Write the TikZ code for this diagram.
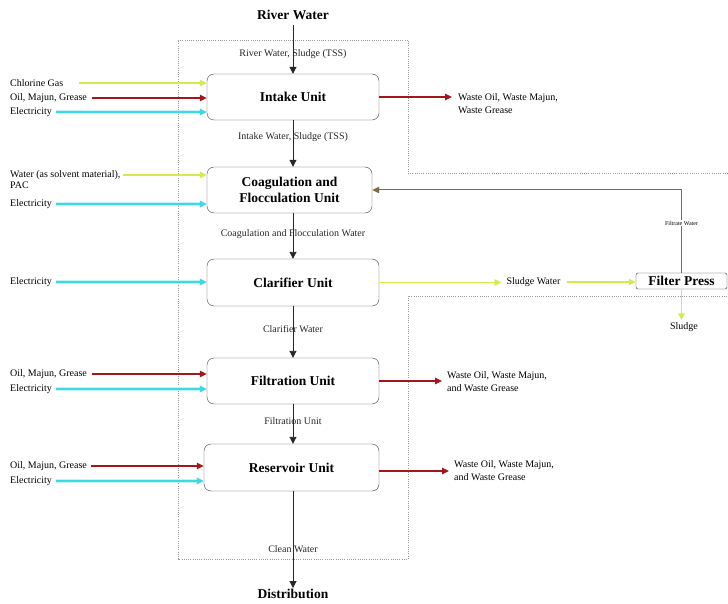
\documentclass[tikz,border=0pt]{standalone}
\usepackage{fontspec}
\setmainfont{Liberation Serif}
\usetikzlibrary{arrows.meta}
\definecolor{chlor}{HTML}{D6E94F}
\definecolor{oilred}{HTML}{A3171C}
\definecolor{elec}{HTML}{3CD9E3}
\definecolor{filtrate}{HTML}{7B6B42}

\begin{document}
\begin{tikzpicture}[x=1pt,y=-1pt,
	unit/.style={draw=black!75, rounded corners=7pt, fill=white, align=center,
		font=\fontsize{13.5}{16}\selectfont\bfseries, minimum width=172pt, minimum height=46pt},
	title/.style={font=\fontsize{13.5}{15}\selectfont\bfseries, inner sep=1pt},
	lbl/.style={font=\fontsize{10}{13}\selectfont, inner sep=2pt, align=left},
	flow/.style={-{Triangle[length=7pt,width=7pt]}, black!85, line width=0.9pt},
	chlarrow/.style={-{Triangle[length=7pt,width=6.5pt]}, chlor, line width=1.3pt},
	oilarrow/.style={-{Triangle[length=7pt,width=6.5pt]}, oilred, line width=1.1pt},
	elarrow/.style={-{Triangle[length=7pt,width=6.5pt]}, elec, line width=1.2pt,
		preaction={draw=elec!30, line width=3.5pt}},
	boundary/.style={gray!80, line width=0.6pt, dash pattern=on 1pt off 1.2pt}]
	\useasboundingbox (0,0) rectangle (728,604);
	% plant boundary
	\draw[boundary] (728,173) -- (408,173) -- (408,40) -- (178,40) -- (178,559) -- (408,559) -- (408,296) -- (728,296);

	% units
	\node[title] (river) at (293,15) {River Water};
	\node[unit] (intake) at (293,97) {Intake Unit};
	\node[unit, minimum width=165pt] (coag) at (289.5,190) {Coagulation and\\Flocculation Unit};
	\node[unit, minimum height=47pt] (clar) at (293,282.5) {Clarifier Unit};
	\node[unit] (filt) at (293,381) {Filtration Unit};
	\node[unit, minimum width=175pt, minimum height=47pt] (res) at (291.5,467.5) {Reservoir Unit};
	\node[title] (dist) at (293,594) {Distribution};

	% main flow
	\draw[flow, shorten <=4pt] (river.south) -- (intake.north) node[lbl, pos=0.62] {River Water, Sludge (TSS)};
	\draw[flow] (intake.south) -- (intake.south |- coag.north) node[lbl, pos=0.36] {Intake Water, Sludge (TSS)};
	\draw[flow] (clar.north |- coag.south) -- (clar.north) node[lbl, pos=0.45] {Coagulation and Flocculation Water};
	\draw[flow] (clar.south) -- (filt.north) node[lbl, pos=0.44] {Clarifier Water};
	\draw[flow] (filt.south) -- (filt.south |- res.north) node[lbl, pos=0.43] {Filtration Unit};
	\draw[flow] (res.south -| dist.north) -- (dist.north) node[lbl, pos=0.6] {Clean Water};

	% inputs intake
	\node[lbl, anchor=west] (chlA) at (8,83) {Chlorine Gas};
	\node[lbl, anchor=west] (oilA) at (8,98) {Oil, Majun, Grease};
	\node[lbl, anchor=west] (elA) at (8,112) {Electricity};
	\draw[chlarrow, shorten <=14pt] (chlA.east) -- (chlA.east -| intake.west);
	\draw[oilarrow, shorten <=3pt] (oilA.east) -- (oilA.east -| intake.west);
	\draw[elarrow, shorten <=2pt] (elA.east) -- (elA.east -| intake.west);

	% inputs coagulation
	\node[lbl, anchor=west, font=\fontsize{10}{11}\selectfont] (watB) at (8,179.5) {Water (as solvent material),\\PAC};
	\node[lbl, anchor=west] (elB) at (8,204) {Electricity};
	\draw[chlarrow] ([yshift=4.5pt]watB.east) -- ([yshift=4.5pt]watB.east -| coag.west);
	\draw[elarrow, shorten <=2pt] (elB.east) -- (elB.east -| coag.west);

	% inputs clarifier
	\node[lbl, anchor=west] (elC) at (8,282) {Electricity};
	\draw[elarrow, shorten <=2pt] (elC.east) -- (elC.east -| clar.west);

	% inputs filtration
	\node[lbl, anchor=west] (oilD) at (8,374) {Oil, Majun, Grease};
	\node[lbl, anchor=west] (elD) at (8,389) {Electricity};
	\draw[oilarrow, shorten <=3pt] (oilD.east) -- (oilD.east -| filt.west);
	\draw[elarrow, shorten <=2pt] (elD.east) -- (elD.east -| filt.west);

	% inputs reservoir
	\node[lbl, anchor=west] (oilE) at (8,466) {Oil, Majun, Grease};
	\node[lbl, anchor=west] (elE) at (8,481) {Electricity};
	\draw[oilarrow, shorten <=2pt] (oilE.east) -- (oilE.east -| res.west);
	\draw[elarrow, shorten <=2pt] (elE.east) -- (elE.east -| res.west);

	% waste outputs
	\node[lbl, anchor=west] (wasteA) at (456,103.5) {Waste Oil, Waste Majun,\\Waste Grease};
	\node[lbl, anchor=west] (wasteD) at (445,381.5) {Waste Oil, Waste Majun,\\and Waste Grease};
	\node[lbl, anchor=west] (wasteE) at (452,470.5) {Waste Oil, Waste Majun,\\and Waste Grease};
	\draw[oilarrow, shorten >=4pt] (intake.east) -- (intake.east -| wasteA.west);
	\draw[oilarrow, shorten >=3pt] (filt.east) -- (filt.east -| wasteD.west);
	\draw[oilarrow, shorten >=3pt] ([yshift=-3.5pt]res.east) -- ([yshift=-3.5pt]res.east -| wasteE.west);

	% sludge line
	\node[lbl] (sw) at (533.5,282) {Sludge Water};
	\node[draw=black!80, rounded corners=1.5pt, title, minimum width=91pt, minimum height=16pt] (fp) at (681.5,281) {Filter Press};
	\node[lbl] (sl) at (684,327) {Sludge};
	\draw[chlarrow, shorten >=3pt] (clar.east) -- (clar.east -| sw.west);
	\draw[chlarrow, shorten <=4pt] (sw.east) -- (sw.east -| fp.west);
	\draw[chlarrow] (fp.south) -- (fp.south |- sl.north);
	\draw[-{Triangle[length=7pt,width=6.5pt]}, filtrate, line width=1pt] (fp.north) |- (coag.east)
		node[pos=0.3, fill=white, inner sep=1pt, text=black, font=\fontsize{6}{7}\selectfont] {Filtrate Water};
\end{tikzpicture}
\end{document}
